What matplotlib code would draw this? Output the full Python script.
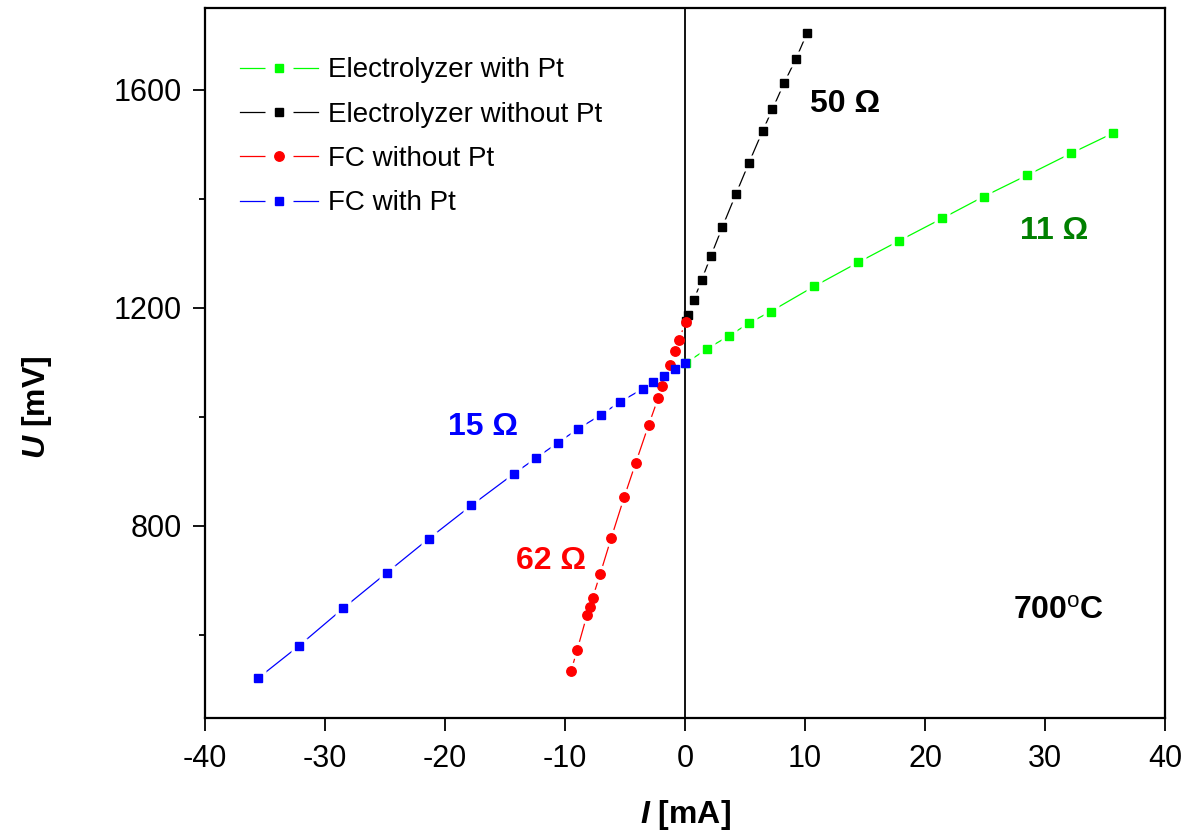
import matplotlib.pyplot as plt
from matplotlib.lines import Line2D
from matplotlib.legend_handler import HandlerTuple

plt.rcParams['font.family'] = ['Liberation Sans', 'DejaVu Sans']
plt.rcParams['mathtext.fontset'] = 'custom'
plt.rcParams['mathtext.it'] = 'Liberation Sans:italic:bold'
plt.rcParams['mathtext.bf'] = 'Liberation Sans:bold'
plt.rcParams['mathtext.rm'] = 'Liberation Sans'
plt.rcParams['axes.unicode_minus'] = False

# current I [mA] / voltage U [mV] at 700 C
el_pt_i = [0.05, 1.86, 3.64, 5.36, 7.14, 10.75, 14.42, 17.86, 21.44, 24.89, 28.5, 32.14, 35.64]
el_pt_u = [1098, 1125, 1148, 1172, 1193, 1239, 1283, 1323, 1364, 1404, 1443, 1483, 1520]

el_nopt_i = [0.08, 0.28, 0.75, 1.39, 2.14, 3.11, 4.25, 5.31, 6.48, 7.28, 8.25, 9.23, 10.19]
el_nopt_u = [1176, 1186, 1215, 1251, 1294, 1348, 1409, 1465, 1525, 1564, 1612, 1656, 1705]

fc_nopt_i = [-9.5, -9.0, -8.17, -7.92, -7.69, -7.06, -6.14, -5.06, -4.11, -3.03, -2.22, -1.89,
             -1.28, -0.83, -0.53, 0.06]
fc_nopt_u = [533, 571, 636, 650, 668, 712, 778, 853, 915, 985, 1035, 1056, 1095, 1120, 1140, 1174]

fc_pt_i = [-35.58, -32.14, -28.5, -24.83, -21.36, -17.81, -14.28, -12.42, -10.61, -8.89, -7.03,
           -5.42, -3.53, -2.64, -1.78, -0.83, 0.03]
fc_pt_u = [520, 580, 648, 714, 776, 837, 895, 924, 952, 978, 1003, 1027, 1051, 1064, 1075, 1087, 1098]

series = [
    ("Electrolyzer with Pt", el_pt_i, el_pt_u, "#00ff00", "s", 5.8),
    ("Electrolyzer without Pt", el_nopt_i, el_nopt_u, "black", "s", 5.8),
    ("FC without Pt", fc_nopt_i, fc_nopt_u, "red", "o", 6.8),
    ("FC with Pt", fc_pt_i, fc_pt_u, "blue", "s", 5.8),
]

fig = plt.figure(figsize=(11.87, 8.32), dpi=100)
ax = fig.add_axes([0.1727, 0.1370, 0.8088, 0.8534])

handles = []
for label, i, u, c, m, ms in series:
    # thin line, broken by a white halo around every point
    ax.plot(i, u, color=c, lw=0.9, zorder=2)
    ax.plot(i, u, ls="none", marker=m, ms=ms + 6, mfc="white", mec="none", zorder=3)
    ax.plot(i, u, ls="none", marker=m, ms=ms, color=c, mec=c, zorder=5)
    h_line = Line2D([], [], color=c, lw=0.9)
    h_gap = Line2D([], [], ls="none", marker="s", ms=20, mfc="white", mec="none")
    h_mark = Line2D([], [], ls="none", marker=m, ms=ms, color=c, mec=c)
    handles.append(((h_line, h_gap, h_mark), label))

ax.axvline(0, color="black", lw=1.3, zorder=4)

ax.set_xlim(-40, 40)
ax.set_ylim(447, 1750)
ax.set_xticks(range(-40, 41, 10))
ax.set_yticks([800, 1200, 1600])
ax.set_yticks([600, 1000, 1400], minor=True)
ax.tick_params(axis="both", which="major", direction="out", length=9, width=1.3,
               labelsize=22)
ax.tick_params(axis="x", pad=10)
ax.tick_params(axis="y", pad=8)
ax.tick_params(axis="y", which="minor", direction="out", length=4, width=1.3)
for s in ax.spines.values():
    s.set_linewidth(1.6)

ax.set_xlabel(r"$\mathit{I}$ [mA]", fontsize=23, fontweight="bold")
ax.set_ylabel(r"$\mathit{U}$ [mV]", fontsize=23, fontweight="bold")
ax.xaxis.set_label_coords(0.5, -0.112)
ax.yaxis.set_label_coords(-0.157, 0.438)

ax.text(10.4, 1573, "50 Ω", fontsize=23, fontweight="bold", color="black", va="center")
ax.text(27.9, 1340, "11 Ω", fontsize=23, fontweight="bold", color="#008000", va="center")
ax.text(-19.75, 981, "15 Ω", fontsize=23, fontweight="bold", color="blue", va="center")
ax.text(-14.1, 735, "62 Ω", fontsize=23, fontweight="bold", color="red", va="center")
ax.text(27.3, 643, r"700$^{\mathrm{o}}$C", fontsize=23, fontweight="bold", va="center")

ax.legend([h for h, _ in handles], [l for _, l in handles],
          handler_map={tuple: HandlerTuple(ndivide=1)},
          loc="upper left", bbox_to_anchor=(0.0365, 0.9305), frameon=False,
          fontsize=20, handlelength=2.8, handletextpad=0.35, labelspacing=0.66,
          borderpad=0, borderaxespad=0)

fig.savefig("out.png", dpi=100)
